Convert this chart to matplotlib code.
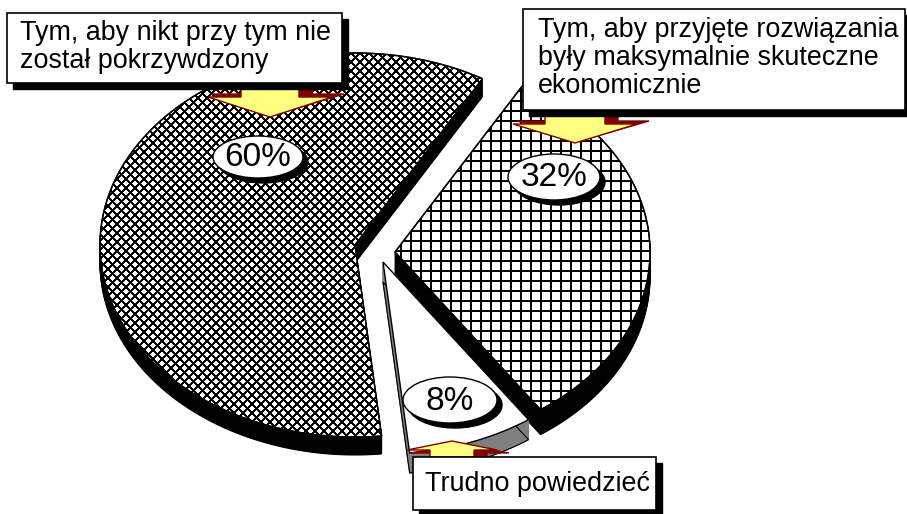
import numpy as np
import matplotlib
matplotlib.use("Agg")
import matplotlib.pyplot as plt
from matplotlib.patches import Polygon, Ellipse, Rectangle
from matplotlib.collections import LineCollection

plt.rcParams['font.family'] = ['Liberation Sans', 'DejaVu Sans']

# dane
kategorie = ['Tym, aby nikt przy tym nie\nzostał pokrzywdzony',
             'Trudno powiedzieć',
             'Tym, aby przyjęte rozwiązania\nbyły maksymalnie skuteczne\nekonomicznie']
udzialy = [60, 8, 32]
etykiety = [f'{v}%' for v in udzialy]

# uklad (piksele)
start = 60
A, B = 255, 192
wierzcholki = [(355, 245), (383, 262), (395, 252)]
glebokosc = [18, 20, 25]
kolor_boku = ['black', '#808080', 'black']
wzory = ['diag', None, 'grid']
bable = [(258, 157, 90, 42), (450, 400, 94, 46), (554, 177, 92, 46)]
ramki = [(7, 13, 335, 70, 20, 40), (413, 457, 243, 53, 425, 491), (523, 9, 382, 101, 538, 37)]
strzalki = [(270, 83, 97, 117, 29, 62, 1), (452, 457, 450, 441, 22, 45, -1), (575, 110, 124, 143, 30, 62, 1)]

fig = plt.figure(figsize=(9.07, 5.14), dpi=100)
ax = fig.add_axes([0, 0, 1, 1])
ax.set_xlim(0, 907)
ax.set_ylim(514, 0)
ax.axis('off')

suma = sum(udzialy)
katy = [start]
for v in udzialy:
    katy.append(katy[-1] + v / suma * 360)

z = [1]


def nz():
    z[0] += 1
    return z[0]


def klin(apex, t1, t2, n=200):
    t = np.radians(np.linspace(t1, t2, n))
    xs = apex[0] + A * np.cos(t)
    ys = apex[1] - B * np.sin(t)
    return np.vstack([[apex], np.column_stack([xs, ys])])


def kreskowanie(patch, rodzaj):
    linie = []
    if rodzaj == 'grid':
        for x in np.arange(0.5, 907, 10):
            linie.append([(x, 0), (x, 514)])
        for y in np.arange(0.5, 514, 10):
            linie.append([(0, y), (907, y)])
        lw = 1.3
    else:
        for c in np.arange(-1000, 1500, 9):
            linie.append([(0, c), (907, 907 + c)])
            linie.append([(0, c), (907, c - 907)])
        lw = 1.0
    lc = LineCollection(linie, colors='black', linewidths=lw, antialiaseds=False, zorder=nz())
    ax.add_collection(lc)
    lc.set_clip_path(patch)


for i in [2, 0, 1]:
    pts = klin(wierzcholki[i], katy[i], katy[i + 1])
    for k in range(glebokosc[i], 0, -1):
        ax.add_patch(Polygon(pts + [0, k], closed=True, facecolor=kolor_boku[i],
                             edgecolor=kolor_boku[i], lw=0.8, zorder=nz()))
    if i == 1:
        ax.add_patch(Polygon(pts + [0, glebokosc[i]], closed=True, fill=False,
                             edgecolor='black', lw=0.8, zorder=nz()))
    top = Polygon(pts, closed=True, facecolor='white', edgecolor='black', lw=1.0, zorder=nz())
    ax.add_patch(top)
    if wzory[i]:
        kreskowanie(top, wzory[i])
        ax.add_patch(Polygon(pts, closed=True, fill=False, edgecolor='black', lw=1.0, zorder=nz()))

# babelki z procentami
for (cx, cy, w, h), txt in zip(bable, etykiety):
    ax.add_patch(Ellipse((cx + 5, cy + 5), w, h, facecolor='black', edgecolor='black', zorder=nz()))
    ax.add_patch(Ellipse((cx, cy), w, h, facecolor='white', edgecolor='black', lw=1, zorder=nz()))
    ax.text(cx, cy + 1, txt, fontsize=24, ha='center', va='center', zorder=nz())


# strzalki
def strzalka(cx, y0, yh, yt, sw, hw, dx, dy, fc, ec):
    pts = [(cx - sw, y0), (cx + sw, y0), (cx + sw, yh), (cx + hw, yh), (cx, yt),
           (cx - hw, yh), (cx - sw, yh)]
    pts = [(x + dx, y + dy) for x, y in pts]
    ax.add_patch(Polygon(pts, closed=True, facecolor=fc, edgecolor=ec, lw=1, zorder=nz()))


for cx, y0, yh, yt, sw, hw, kier in strzalki:
    strzalka(cx, y0, yh, yt, sw + 5, hw + 4, 8, -3 * kier, '#800000', '#800000')
    strzalka(cx, y0, yh, yt, sw, hw, 0, 0, '#FFFF80', '#800000')

# ramki z opisami
for (x, y, w, h, tx, ty), txt in zip(ramki, kategorie):
    ax.add_patch(Rectangle((x + 6, y + 6), w, h, facecolor='black', edgecolor='black', zorder=nz()))
    ax.add_patch(Rectangle((x, y), w, h, facecolor='white', edgecolor='black', lw=1.2, zorder=nz()))
    for j, linia in enumerate(txt.split('\n')):
        ax.text(tx, ty + j * 28, linia, fontsize=19.4, ha='left', va='baseline', zorder=nz())

fig.savefig('out.png', dpi=100)
